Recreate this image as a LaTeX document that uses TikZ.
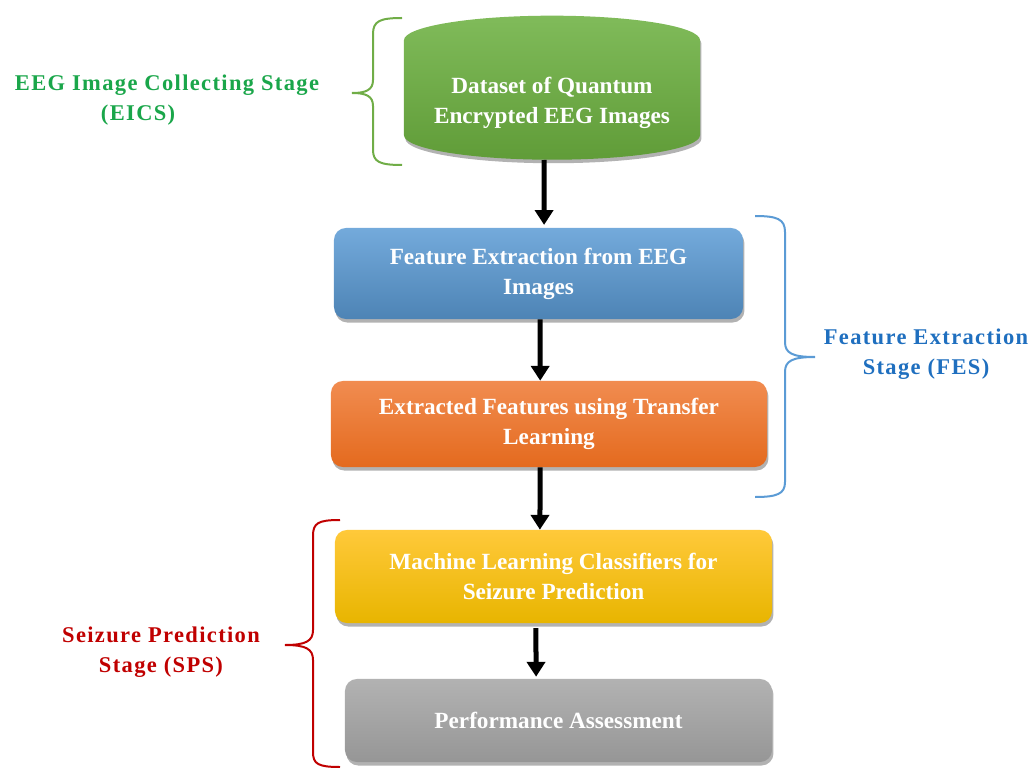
\documentclass[tikz,border=0pt]{standalone}
\usepackage{fontspec}
\setmainfont{Liberation Serif}
\usetikzlibrary{shapes.geometric,shadows,arrows.meta}

\definecolor{eicsgreen}{HTML}{1AA64A}
\definecolor{bracegreen}{HTML}{70AD47}
\definecolor{fesblue}{HTML}{1F6FBF}
\definecolor{braceblue}{HTML}{5B9BD5}
\definecolor{spsred}{HTML}{C00000}

\tikzset{
    stagebox/.style={rectangle, rounded corners=0.3cm, align=center, text=white,
        font=\fontsize{16.5}{21.3}\selectfont\bfseries,
        drop shadow={shadow xshift=1pt, shadow yshift=-2.5pt, opacity=0.3, fill=black}},
    flow/.style={line width=0.125cm, -{Triangle[length=0.37cm,width=0.45cm]}},
    bracket/.style={line width=0.05cm},
    stagelabel/.style={align=center,
        font=\fontsize{16}{21.3}\selectfont\bfseries\addfontfeature{LetterSpace=6}}
}

\begin{document}
\begin{tikzpicture}[x=0.025cm,y=-0.025cm]
    \useasboundingbox (0,0) rectangle (1032,768);

    % the five steps
    \node (data) [cylinder, shape border rotate=90, aspect=0.2, anchor=south,
        minimum width=7.4cm, minimum height=3.6cm, align=center, text=white,
        font=\fontsize{16.5}{21.3}\selectfont\bfseries,
        top color={rgb,255:red,128;green,187;blue,90}, bottom color={rgb,255:red,96;green,156;blue,56},
        drop shadow={shadow xshift=1pt, shadow yshift=-2.5pt, opacity=0.3, fill=black}]
        at (552,160) {Dataset of Quantum\\Encrypted EEG Images};
    \node (feat) [stagebox, minimum width=10.225cm, minimum height=2.275cm,
        top color=braceblue!85!white, bottom color=braceblue!85!black]
        at (538.5,273.5) {Feature Extraction from EEG\\Images};
    \node (extr) [stagebox, minimum width=10.9cm, minimum height=2.15cm,
        top color={rgb,255:red,241;green,140;blue,80}, bottom color={rgb,255:red,228;green,106;blue,30}]
        at (549,424) {Extracted Features using Transfer\\Learning};
    \node (clf) [stagebox, minimum width=10.925cm, minimum height=2.325cm,
        top color={rgb,255:red,255;green,201;blue,58}, bottom color={rgb,255:red,232;green,181;blue,0}]
        at (553.5,576.5) {Machine Learning Classifiers for\\Seizure Prediction};
    \node (perf) [stagebox, minimum width=10.675cm, minimum height=2.075cm,
        top color={rgb,255:red,178;green,178;blue,178}, bottom color={rgb,255:red,150;green,150;blue,150}]
        at (558.5,720.5) {Performance Assessment};

    % arrows
    \draw[flow] ([xshift=-0.2cm]data.south) -- ([xshift=0.14cm,yshift=0.07cm]feat.north);
    \draw[flow] ([xshift=0.04cm]feat.south) -- ([xshift=-0.22cm]extr.north);
    \draw[flow] ([xshift=-0.22cm]extr.south) -- ([xshift=-0.34cm]clf.north);
    \draw[flow] ([xshift=-0.44cm,yshift=-0.12cm]clf.south) -- ([xshift=-0.56cm,yshift=0.05cm]perf.north);

    % braces
    \draw[bracket, bracegreen] (402,18) .. controls (380,18) and (373,21) .. (373,34)
        -- (373,80) .. controls (373,90) and (366,93) .. (352,93)
        .. controls (366,93) and (373,96) .. (373,106)
        -- (373,150) .. controls (373,162) and (380,165) .. (402,165);
    \draw[bracket, braceblue] (755,216) .. controls (777,216) and (785,219) .. (785,232)
        -- (785,342) .. controls (785,353) and (792,357) .. (815,357)
        .. controls (792,357) and (785,361) .. (785,372)
        -- (785,482) .. controls (785,494) and (777,497) .. (755,497);
    \draw[bracket, spsred] (340,520) .. controls (318,520) and (313,523) .. (313,536)
        -- (313,630) .. controls (313,641) and (306,645) .. (285,645)
        .. controls (306,645) and (313,649) .. (313,660)
        -- (313,752) .. controls (313,764) and (318,767) .. (340,767);

    % stage names
    \node (eics) [stagelabel, text=eicsgreen, align=left, anchor=west] at (10,100)
        {EEG Image Collecting Stage\\\hspace{2.15cm}(EICS)};
    \node (fes) [stagelabel, text=fesblue] at (926,354) {Feature Extraction\\Stage (FES)};
    \node (sps) [stagelabel, text=spsred] at (161,652) {Seizure Prediction\\Stage (SPS)};
\end{tikzpicture}
\end{document}
